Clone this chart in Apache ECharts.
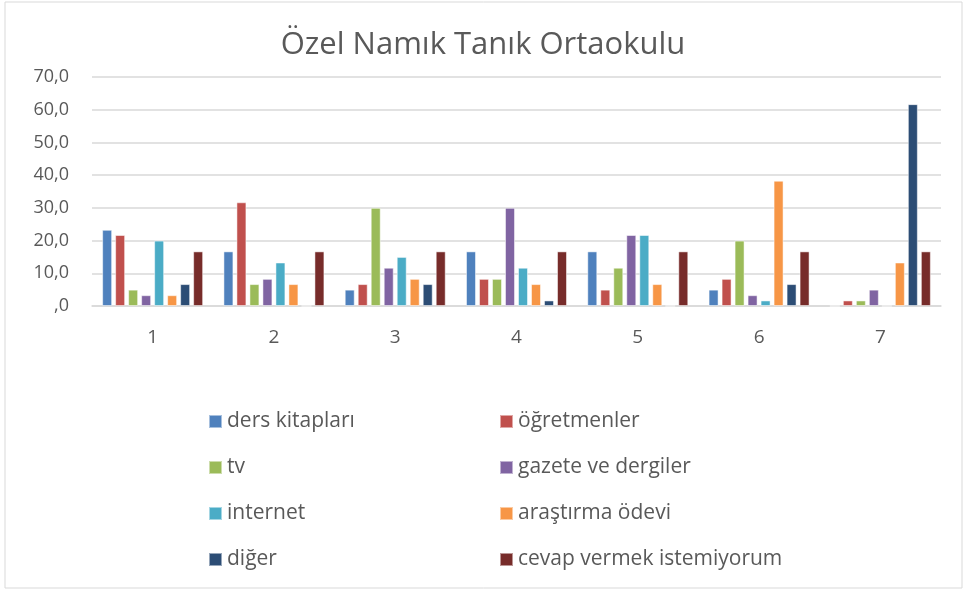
<!DOCTYPE html>
<html lang="tr">
<head>
    <meta charset="utf-8">
    <title>Özel Namık Tanık Ortaokulu</title>
    <script src="https://cdn.jsdelivr.net/npm/echarts@6/dist/echarts.min.js"></script>
    <style>
        html, body { margin: 0; padding: 0; background: #fff; }
        #chart { width: 966px; height: 591px; }
    </style>
</head>
<body>
<div id="chart"></div>
<script>
    // veriler (yüzde)
    var categories = ['1', '2', '3', '4', '5', '6', '7'];
    var dersKitaplari = [23.3, 16.7, 5.0, 16.7, 16.7, 5.0, 0];
    var ogretmenler   = [21.7, 31.7, 6.7, 8.3, 5.0, 8.3, 1.7];
    var tv            = [5.0, 6.7, 30.0, 8.3, 11.7, 20.0, 1.7];
    var gazete        = [3.3, 8.3, 11.7, 30.0, 21.7, 3.3, 5.0];
    var internet      = [20.0, 13.3, 15.0, 11.7, 21.7, 1.7, 0];
    var arastirma     = [3.3, 6.7, 8.3, 6.7, 6.7, 38.3, 13.3];
    var diger         = [6.7, 0, 6.7, 1.7, 0, 6.7, 61.7];
    var cevap         = [16.7, 16.7, 16.7, 16.7, 16.7, 16.7, 16.7];

    var seriesNames = ['ders kitapları', 'öğretmenler', 'tv', 'gazete ve dergiler',
        'internet', 'araştırma ödevi', 'diğer', 'cevap vermek istemiyorum'];
    var seriesData = [dersKitaplari, ogretmenler, tv, gazete, internet, arastirma, diger, cevap];
    var colors = ['#4f81bd', '#c0504d', '#9bbb59', '#8064a2', '#4bacc6', '#f79646', '#2c4d75', '#772c2a'];

    var font = '"Open Sans", Lato, sans-serif';
    var textColor = '#595959';

    var series = [];
    for (var i = 0; i < seriesNames.length; i++) {
        series.push({
            name: seriesNames[i],
            type: 'bar',
            data: seriesData[i],
            barWidth: 10,
            barGap: '30%',
            itemStyle: {
                color: colors[i],
                borderColor: 'rgba(255,255,255,0.5)',
                borderWidth: 1
            }
        });
    }

    var legendText = { fontFamily: font, fontSize: 21, color: textColor, lineHeight: 21 };

    var chart = echarts.init(document.getElementById('chart'));
    var option = {
        color: colors,
        animation: false,
        title: {
            text: 'Özel Namık Tanık Ortaokulu',
            left: 'center',
            top: 25,
            textStyle: { fontFamily: font, fontSize: 31, fontWeight: 'normal', color: textColor }
        },
        legend: [
            {
                // sol sütun
                orient: 'vertical',
                left: 203,
                top: 406,
                itemWidth: 13,
                itemHeight: 13,
                itemGap: 25,
                icon: 'rect',
                textStyle: legendText,
                data: ['ders kitapları', 'tv', 'internet', 'diğer']
            },
            {
                // sağ sütun
                orient: 'vertical',
                left: 494,
                top: 406,
                itemWidth: 13,
                itemHeight: 13,
                itemGap: 25,
                icon: 'rect',
                textStyle: legendText,
                data: ['öğretmenler', 'gazete ve dergiler', 'araştırma ödevi', 'cevap vermek istemiyorum']
            }
        ],
        grid: {
            left: 92,
            right: 25,
            top: 77,
            bottom: 285
        },
        xAxis: {
            type: 'category',
            data: categories,
            axisTick: { show: false },
            axisLine: { lineStyle: { color: '#d9d9d9', width: 1.5 } },
            axisLabel: { fontFamily: font, fontSize: 19, color: textColor, margin: 22 }
        },
        yAxis: {
            type: 'value',
            min: 0,
            max: 70,
            interval: 10,
            splitLine: { lineStyle: { color: '#d9d9d9', width: 1.5 } },
            axisLabel: {
                fontFamily: font,
                fontSize: 18,
                color: textColor,
                margin: 23,
                formatter: function (v) {
                    if (v === 0) return ',0';
                    return v.toFixed(1).replace('.', ',');
                }
            }
        },
        graphic: [
            {
                // dış çerçeve
                type: 'rect',
                shape: { x: 5, y: 2, width: 957, height: 586 },
                style: { fill: 'none', stroke: '#d9d9d9', lineWidth: 1 },
                silent: true
            }
        ],
        series: series
    };
    chart.setOption(option);
</script>
</body>
</html>
